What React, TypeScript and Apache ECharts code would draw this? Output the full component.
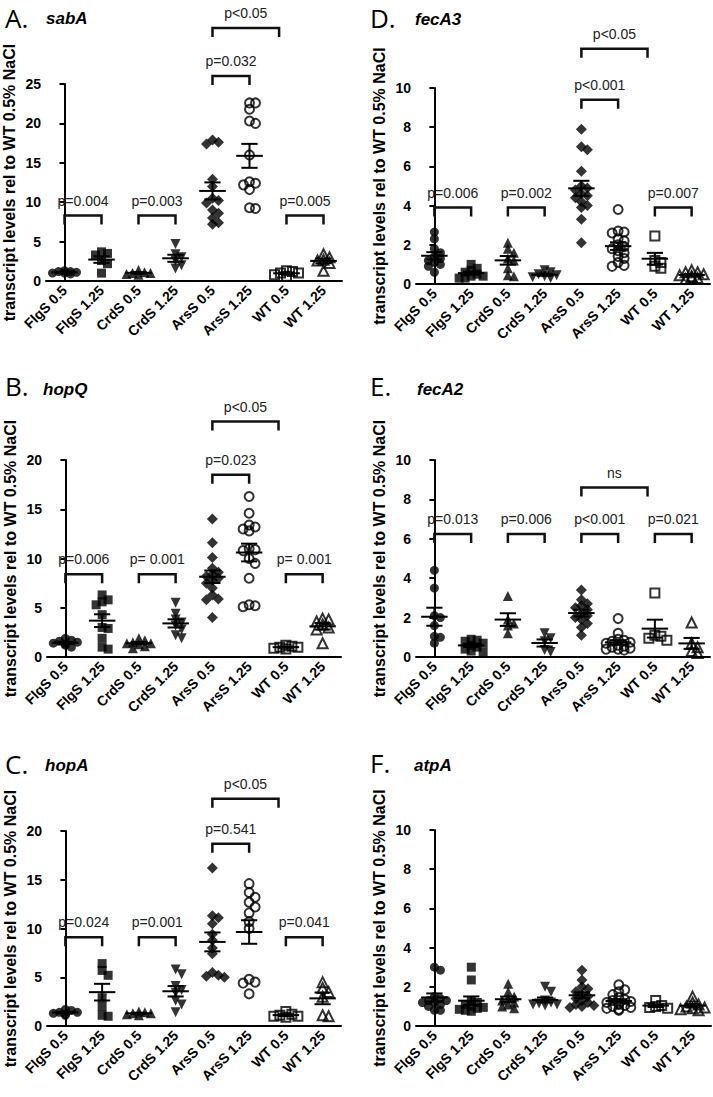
import React, { useEffect, useRef } from "react";
import * as echarts from "echarts";

const categories = ["FlgS 0.5", "FlgS 1.25", "CrdS 0.5", "CrdS 1.25", "ArsS 0.5", "ArsS 1.25", "WT 0.5", "WT 1.25"];
const panelLetters = ["A.", "B.", "C.", "D.", "E.", "F."];
const geneNames = ["sabA", "hopQ", "hopA", "fecA3", "fecA2", "atpA"];
const yMaxes = [25, 20, 20, 10, 10, 10];
const yIntervals = [5, 5, 5, 2, 2, 2];
const yAxisTitle = "transcript levels rel to WT 0.5% NaCl";

const sabA: number[][] = [
  [0.9, 1.0, 1.1, 1.2, 1.3, 1.0, 1.2],
  [3.7, 3.5, 3.3, 2.6, 2.2, 1.0],
  [0.8, 0.9, 1.0, 1.1, 1.4, 1.0],
  [4.7, 3.4, 3.0, 2.6, 2.0, 1.6],
  [17.9, 17.6, 17.4, 12.9, 12.0, 10.5, 10.2, 9.9, 9.0, 8.6, 8.0, 7.4, 7.2],
  [22.6, 22.6, 21.8, 20.3, 20.0, 16.0, 12.6, 12.4, 12.2, 11.6, 9.3, 9.2],
  [0.6, 0.8, 1.0, 1.0, 1.2, 1.3],
  [3.4, 3.0, 2.7, 2.6, 2.3, 1.3],
];
const hopQ: number[][] = [
  [1.9, 1.7, 1.5, 1.4, 1.3, 1.2, 1.0, 1.6],
  [6.3, 5.8, 5.6, 5.3, 4.3, 3.0, 2.9, 1.9, 1.0, 0.8],
  [1.9, 1.7, 1.5, 1.4, 1.3, 1.1, 0.9, 1.4],
  [5.5, 4.4, 3.8, 3.5, 3.2, 2.8, 2.2, 1.9],
  [14.0, 11.6, 10.1, 9.0, 8.6, 8.4, 8.2, 8.0, 7.8, 7.5, 7.0, 6.3, 5.9, 5.8, 4.0],
  [16.3, 14.6, 13.4, 13.2, 13.0, 12.8, 11.0, 10.9, 10.8, 10.0, 9.5, 8.0, 5.3, 5.2, 5.1],
  [0.8, 0.9, 1.0, 1.0, 1.1, 1.2],
  [3.9, 3.8, 3.6, 3.3, 3.0, 2.8, 1.4],
];
const hopA: number[][] = [
  [1.7, 1.6, 1.4, 1.3, 1.2, 1.1, 1.4],
  [6.4, 5.7, 5.2, 2.9, 2.0, 1.1, 1.0],
  [1.5, 1.4, 1.3, 1.2, 1.1, 1.3],
  [5.8, 5.3, 4.1, 3.7, 3.4, 2.6, 2.2, 1.4],
  [16.2, 11.3, 11.1, 10.5, 9.4, 8.8, 8.0, 7.4, 5.5, 5.2, 5.0, 5.1],
  [14.6, 13.7, 13.2, 12.7, 12.2, 11.6, 10.7, 10.0, 4.8, 4.5, 4.4, 3.3],
  [1.5, 1.2, 1.0, 0.9, 1.0, 1.1],
  [4.5, 3.9, 3.5, 3.0, 1.1, 1.0],
];
const fecA3: number[][] = [
  [2.65, 2.3, 1.8, 1.6, 1.4, 1.3, 1.2, 1.1, 1.0, 0.9, 0.6],
  [1.0, 0.8, 0.7, 0.6, 0.5, 0.4, 0.4, 0.3, 0.3],
  [2.1, 1.8, 1.6, 1.3, 1.2, 0.8, 0.4, 0.45],
  [0.7, 0.6, 0.5, 0.45, 0.4, 0.35, 0.3],
  [7.9, 7.0, 6.85, 5.75, 5.0, 4.9, 4.8, 4.6, 4.5, 4.4, 4.2, 4.0, 3.9, 3.3, 2.1],
  [3.8, 2.7, 2.65, 2.6, 2.3, 2.2, 2.0, 1.9, 1.8, 1.7, 1.6, 1.4, 1.3, 1.1, 0.95, 0.9],
  [2.45, 1.2, 1.1, 0.9, 0.8],
  [0.7, 0.6, 0.6, 0.5, 0.45, 0.4, 0.35, 0.3, 0.25],
];
const fecA2: number[][] = [
  [4.4, 3.5, 2.1, 2.0, 1.6, 1.05, 1.0, 0.7],
  [0.9, 0.85, 0.8, 0.7, 0.6, 0.5, 0.4, 0.3, 0.25],
  [3.1, 1.9, 1.7, 1.6, 1.2],
  [1.2, 0.95, 0.8, 0.35, 0.25],
  [3.4, 2.9, 2.7, 2.6, 2.5, 2.4, 2.2, 2.1, 2.0, 1.9, 1.7, 1.5, 1.1],
  [1.95, 1.2, 0.9, 0.85, 0.8, 0.75, 0.7, 0.6, 0.55, 0.5, 0.45, 0.4, 0.4, 0.35],
  [3.25, 1.05, 0.95, 0.85, 1.1],
  [1.75, 0.7, 0.5, 0.3, 0.2],
];
const atpA: number[][] = [
  [3.0, 2.85, 1.5, 1.4, 1.3, 1.3, 1.2, 1.2, 1.1, 1.0, 0.8, 0.8],
  [3.0, 2.35, 1.3, 1.2, 1.1, 1.0, 0.95, 0.9, 0.85, 0.8, 0.75],
  [2.15, 1.75, 1.5, 1.4, 1.3, 1.2, 1.1, 1.0, 0.9],
  [2.0, 1.75, 1.3, 1.2, 1.15, 1.1, 1.1, 1.05],
  [2.85, 2.35, 2.0, 1.9, 1.75, 1.6, 1.5, 1.4, 1.3, 1.2, 1.1, 1.05, 1.0, 0.95],
  [2.1, 1.85, 1.75, 1.6, 1.45, 1.35, 1.3, 1.25, 1.2, 1.15, 1.1, 1.05, 1.0, 0.95, 0.9, 0.85, 0.8],
  [1.3, 1.05, 1.0, 0.95, 0.9],
  [1.5, 1.2, 1.1, 1.0, 0.95, 0.9, 0.85, 0.8],
];

// brackets: [fromCategory, toCategory, y value, label]
const sabABrackets: [number, number, number, string][] = [
  [0, 1, 8.3, "p=0.004"], [2, 3, 8.3, "p=0.003"], [4, 5, 26, "p=0.032"], [4, 5.8, 32.1, "p<0.05"], [6, 7, 8.3, "p=0.005"],
];
const hopQBrackets: [number, number, number, string][] = [
  [0, 1, 8.4, "p=0.006"], [2, 3, 8.4, "p= 0.001"], [4, 5, 18.5, "p=0.023"], [4, 5.8, 23.9, "p<0.05"], [6, 7, 8.4, "p= 0.001"],
];
const hopABrackets: [number, number, number, string][] = [
  [0, 1, 9.1, "p=0.024"], [2, 3, 9.1, "p=0.001"], [4, 5, 18.7, "p=0.541"], [4, 5.8, 23.3, "p<0.05"], [6, 7, 9.1, "p=0.041"],
];
const fecA3Brackets: [number, number, number, string][] = [
  [0, 1, 3.9, "p=0.006"], [2, 3, 3.9, "p=0.002"], [4, 5, 9.4, "p<0.001"], [4, 5.8, 12.0, "p<0.05"], [6, 7, 3.9, "p=0.007"],
];
const fecA2Brackets: [number, number, number, string][] = [
  [0, 1, 6.25, "p=0.013"], [2, 3, 6.25, "p=0.006"], [4, 5, 6.25, "p<0.001"], [4, 5.8, 8.6, "ns"], [6, 7, 6.25, "p=0.021"],
];
const atpABrackets: [number, number, number, string][] = [];

const panelData = [sabA, hopQ, hopA, fecA3, fecA2, atpA];
const panelBrackets = [sabABrackets, hopQBrackets, hopABrackets, fecA3Brackets, fecA2Brackets, atpABrackets];

const layouts = [
  { left: 46, top: 84, width: 296, height: 197, lx: 5, ly: 18, gx: 46, gy: 18 },
  { left: 47, top: 460, width: 294, height: 197, lx: 5, ly: 386, gx: 43, gy: 389 },
  { left: 47, top: 831, width: 294, height: 195, lx: 5, ly: 764, gx: 45, gy: 765 },
  { left: 416, top: 88, width: 294, height: 196, lx: 370, ly: 18, gx: 415, gy: 19 },
  { left: 416, top: 460, width: 294, height: 197, lx: 370, ly: 386, gx: 417, gy: 389 },
  { left: 416, top: 830, width: 295, height: 196, lx: 370, ly: 763, gx: 414, gy: 765 },
];

const groupSymbols = [
  { symbol: "circle", size: 9, filled: true, rotate: 0 },
  { symbol: "rect", size: 9, filled: true, rotate: 0 },
  { symbol: "triangle", size: 10, filled: true, rotate: 0 },
  { symbol: "triangle", size: 10, filled: true, rotate: 180 },
  { symbol: "diamond", size: 11, filled: true, rotate: 0 },
  { symbol: "circle", size: 9, filled: false, rotate: 0 },
  { symbol: "rect", size: 9, filled: false, rotate: 0 },
  { symbol: "triangle", size: 10, filled: false, rotate: 0 },
];

const FONT = "Arial, 'Liberation Sans', sans-serif";

function swarmOffsets(values: number[], thr: number, step: number): number[] {
  const order = values.map((_, i) => i).sort((a, b) => values[b] - values[a]);
  const placed: { x: number; v: number }[] = [];
  const out = new Array(values.length).fill(0);
  const ks = [0, 1, -1, 2, -2];
  for (const i of order) {
    const v = values[i];
    let best = 0;
    let bestCount = Infinity;
    for (const k of ks) {
      const x = k * step;
      const count = placed.filter((p) => Math.abs(p.x - x) < step * 0.5 && Math.abs(p.v - v) < thr).length;
      if (count < bestCount) {
        bestCount = count;
        best = x;
      }
      if (count === 0) break;
    }
    placed.push({ x: best, v });
    out[i] = best;
  }
  return out;
}

function meanSem(values: number[]): [number, number] {
  const n = values.length;
  const m = values.reduce((a, b) => a + b, 0) / n;
  const sd = Math.sqrt(values.reduce((a, b) => a + (b - m) * (b - m), 0) / (n - 1));
  return [m, sd / Math.sqrt(n)];
}

function buildOption() {
  const grid: any[] = [];
  const xAxis: any[] = [];
  const yAxis: any[] = [];
  const series: any[] = [];
  const graphic: any[] = [];

  panelData.forEach((groups, p) => {
    const L = layouts[p];
    grid.push({ left: L.left, top: L.top, width: L.width, height: L.height, containLabel: false });
    xAxis.push({
      type: "category",
      gridIndex: p,
      data: categories,
      boundaryGap: true,
      axisLine: { lineStyle: { color: "#000", width: 2 } },
      axisTick: { alignWithLabel: true, length: 5, lineStyle: { color: "#000", width: 2 } },
      axisLabel: { interval: 0, rotate: 45, color: "#000", fontWeight: "bold", fontSize: 14, fontFamily: FONT, margin: 7 },
      splitLine: { show: false },
    });
    xAxis.push({ type: "value", gridIndex: p, min: -0.5, max: 7.5, show: false });
    yAxis.push({
      type: "value",
      gridIndex: p,
      min: 0,
      max: yMaxes[p],
      interval: yIntervals[p],
      name: yAxisTitle,
      nameLocation: "middle",
      nameGap: 29,
      nameRotate: 90,
      nameTextStyle: { color: "#000", fontWeight: "bold", fontSize: 16, fontFamily: FONT },
      axisLine: { show: true, lineStyle: { color: "#000", width: 2 } },
      axisTick: { show: true, length: 5, lineStyle: { color: "#000", width: 2 } },
      axisLabel: { color: "#000", fontWeight: "bold", fontSize: 14, fontFamily: FONT, margin: 5 },
      splitLine: { show: false },
    });

    const pxPerUnit = L.height / yMaxes[p];
    const catPx = L.width / categories.length;
    const step = 6 / catPx;
    const thr = 5 / pxPerUnit;

    groups.forEach((vals, g) => {
      const offs = swarmOffsets(vals, thr, step);
      const s = groupSymbols[g];
      series.push({
        type: "scatter",
        xAxisIndex: p * 2 + 1,
        yAxisIndex: p,
        symbol: s.symbol,
        symbolSize: s.size,
        symbolRotate: s.rotate,
        z: 2,
        itemStyle: s.filled
          ? { color: "#000", borderWidth: 0 }
          : { color: "rgba(0,0,0,0)", borderColor: "#000", borderWidth: 2 },
        data: vals.map((v, i) => [g + offs[i], v]),
        silent: true,
      });
    });

    const stats = groups.map((vals, g) => {
      const [m, se] = meanSem(vals);
      return [g, m, se];
    });
    series.push({
      type: "custom",
      xAxisIndex: p * 2 + 1,
      yAxisIndex: p,
      z: 4,
      clip: false,
      silent: true,
      data: stats,
      renderItem: (params: any, api: any) => {
        const x = api.value(0);
        const m = api.value(1);
        const se = api.value(2);
        const pm = api.coord([x, m]);
        const pt = api.coord([x, m + se]);
        const pb = api.coord([x, m - se]);
        const cw = api.size([1, 0])[0];
        const hw = cw * 0.36;
        const cap = cw * 0.22;
        const st = { stroke: "#000", lineWidth: 2 };
        return {
          type: "group",
          children: [
            { type: "line", shape: { x1: pm[0] - hw, y1: pm[1], x2: pm[0] + hw, y2: pm[1] }, style: st },
            { type: "line", shape: { x1: pt[0], y1: pt[1], x2: pb[0], y2: pb[1] }, style: st },
            { type: "line", shape: { x1: pt[0] - cap, y1: pt[1], x2: pt[0] + cap, y2: pt[1] }, style: st },
            { type: "line", shape: { x1: pb[0] - cap, y1: pb[1], x2: pb[0] + cap, y2: pb[1] }, style: st },
          ],
        };
      },
    });

    const br = panelBrackets[p];
    if (br.length) {
      series.push({
        type: "custom",
        xAxisIndex: p * 2 + 1,
        yAxisIndex: p,
        z: 5,
        clip: false,
        silent: true,
        data: br.map((b) => [b[0], b[1], b[2]]),
        renderItem: (params: any, api: any) => {
          const a = api.coord([api.value(0), api.value(2)]);
          const b = api.coord([api.value(1), api.value(2)]);
          const label = br[params.dataIndex][3];
          return {
            type: "group",
            children: [
              {
                type: "polyline",
                shape: { points: [[a[0], a[1] + 9], [a[0], a[1]], [b[0], a[1]], [b[0], a[1] + 9]] },
                style: { stroke: "#111", lineWidth: 2.5, fill: null },
              },
              {
                type: "text",
                x: (a[0] + b[0]) / 2,
                y: a[1] - 15,
                style: {
                  text: label,
                  fill: "#222",
                  font: `14px ${FONT}`,
                  align: "center",
                  verticalAlign: "middle",
                  textAlign: "center",
                  textVerticalAlign: "middle",
                },
              },
            ],
          };
        },
      });
    }

    graphic.push({
      type: "text",
      x: L.lx,
      y: L.ly,
      style: {
        text: panelLetters[p],
        fill: "#000",
        font: `normal 26px 'Open Sans', 'DejaVu Sans', sans-serif`,
        verticalAlign: "middle",
        textVerticalAlign: "middle",
      },
    });
    graphic.push({
      type: "text",
      x: L.gx,
      y: L.gy,
      style: {
        text: geneNames[p],
        fill: "#000",
        font: `italic bold 17px ${FONT}`,
        verticalAlign: "middle",
        textVerticalAlign: "middle",
      },
    });
  });

  return { animation: false, backgroundColor: "#fff", grid, xAxis, yAxis, series, graphic };
}

export default function App() {
  const ref = useRef<HTMLDivElement>(null);
  useEffect(() => {
    document.body.style.margin = "0";
    if (!ref.current) return;
    const chart = echarts.init(ref.current, undefined, { renderer: "svg" });
    chart.setOption(buildOption() as any);
    return () => chart.dispose();
  }, []);
  return <div ref={ref} style={{ width: 713, height: 1097 }} />;
}
